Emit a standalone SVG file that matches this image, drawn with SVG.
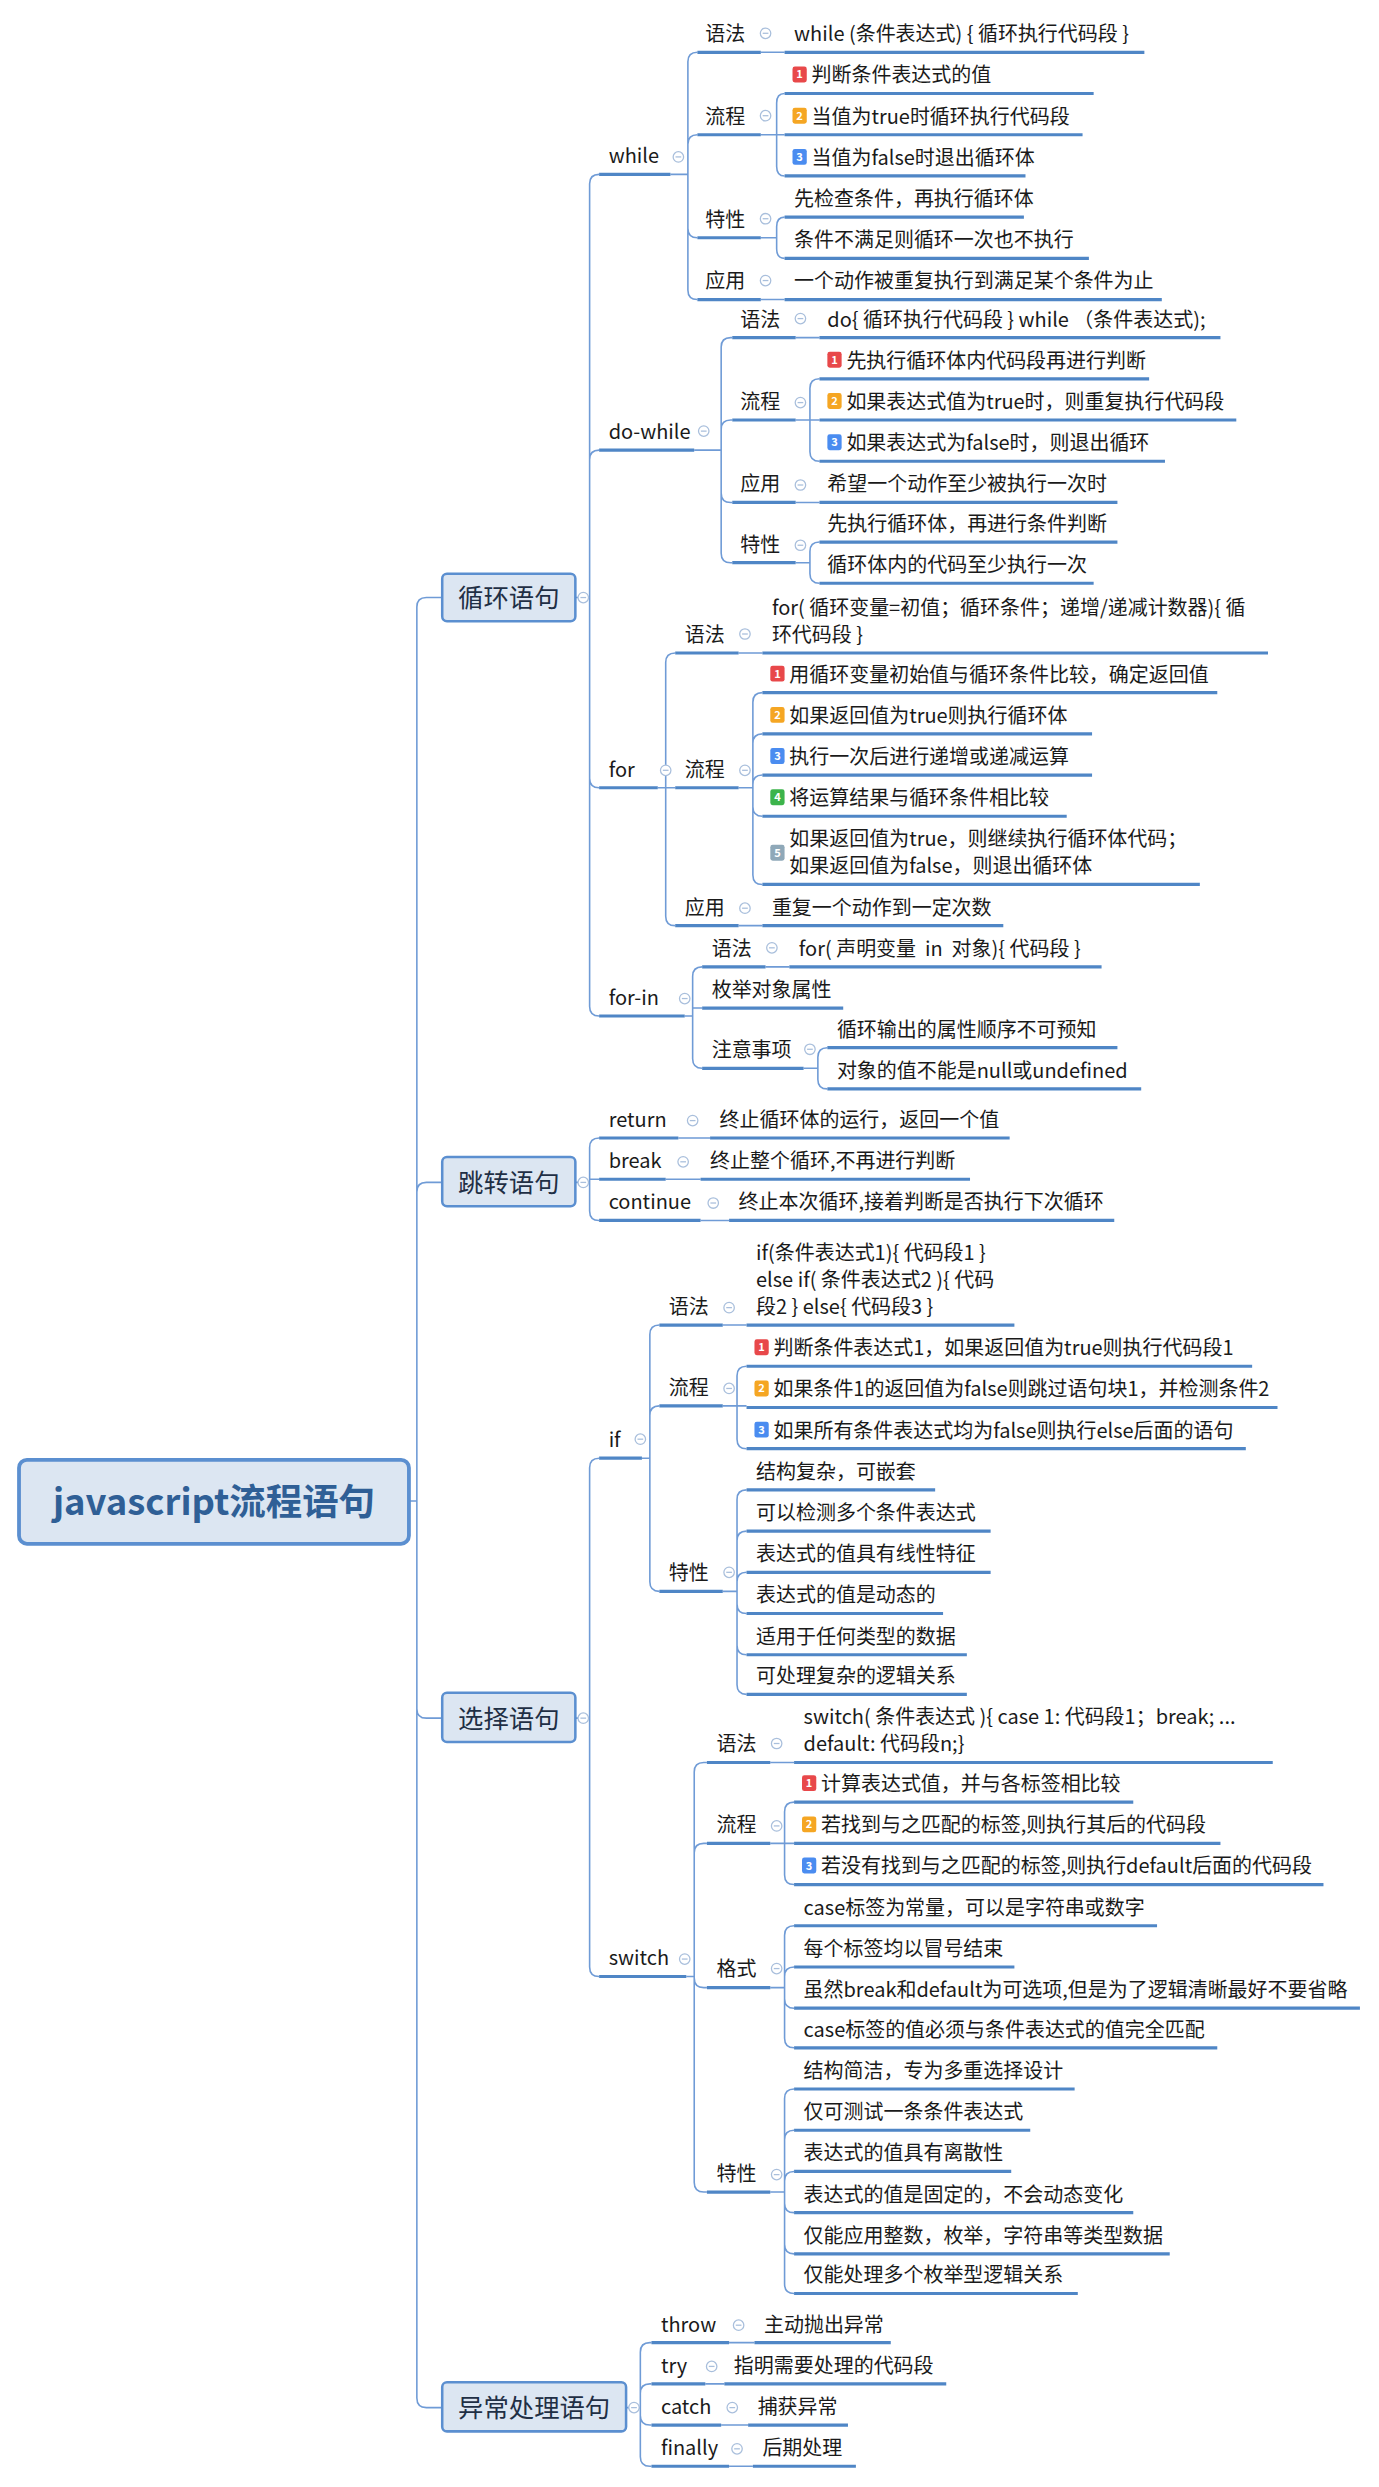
<svg xmlns="http://www.w3.org/2000/svg" xmlns:xlink="http://www.w3.org/1999/xlink" width="1379" height="2487" viewBox="0 0 1379 2487">
<style>
text{font-family:"Microsoft YaHei","Noto Sans CJK SC","Noto Sans",sans-serif;font-size:12.6px;fill:#1a1a1a}
.u{stroke:#4f86c6;stroke-width:2;fill:none}
.c path{stroke:#6f9bd6;stroke-width:1;fill:none}
.b{fill:#dce6f2;stroke:#5b8fd0;stroke-width:1.6}
.bt{font-size:16px;fill:#1f2f45;text-anchor:middle}
.n{font-size:7px;fill:#fff;font-weight:bold;text-anchor:middle}
</style>
<defs>
<g id="col"><circle r="3.3" fill="#fff" stroke="#a9bfdc" stroke-width="0.8"/><path d="M-1.8 0H1.8" stroke="#a9bfdc" stroke-width="0.8"/></g>
</defs>
<rect width="1379" height="2487" fill="#fff"/>
<g transform="scale(1.585)">
<g class="c" id="connectors">
<path d="M258 947H263V383Q263 377 269 377H279M258 947H263V752Q263 746 269 746H279M258 947H263V1078Q263 1084 269 1084H279M258 947H263V1513Q263 1519 269 1519H279"/>
<path d="M363 377H372V116Q372 110 378 110M363 377H372V290Q372 284 378 284M363 377H372V491Q372 497 378 497M363 377H372V635Q372 641 378 641"/>
<path d="M363 746H372V724Q372 718 378 718M363 746H372V744H378M363 746H372V764Q372 770 378 770"/>
<path d="M363 1084H372V926Q372 920 378 920M363 1084H372V1241Q372 1247 378 1247"/>
<path d="M395 1519H404V1484Q404 1478 410 1478H411M395 1519H404V1510Q404 1504 410 1504H411M395 1519H404V1524Q404 1530 410 1530H411M395 1519H404V1550Q404 1556 410 1556H411"/>
<path d="M423 110H434V39Q434 33 440 33M423 110H434V91Q434 85 440 85M423 110H434V144Q434 150 440 150M423 110H434V183Q434 189 440 189"/>
<path d="M480 33H495M480 85H490V65Q490 59 495 59M480 85H495M480 85H490V105Q490 111 495 111M480 150H490V143Q490 137 495 137M480 150H490V157Q490 163 495 163M480 189H495"/>
<path d="M438 284H455V219Q455 213 461 213H462M438 284H455V271Q455 265 461 265H462M438 284H455V311Q455 317 461 317H462M438 284H455V349Q455 355 461 355H462"/>
<path d="M502 213H517M502 265H511V245Q511 239 517 239M502 265H517M502 265H511V285Q511 291 517 291M502 317H517M502 355H511V348Q511 342 517 342M502 355H511V362Q511 368 517 368"/>
<path d="M415 497H420V418Q420 412 426 412M415 497H426M415 497H420V578Q420 584 426 584"/>
<path d="M466 412H481M466 497H475V443Q475 437 481 437M466 497H475V469Q475 463 481 463M466 497H475V495Q475 489 481 489M466 497H475V509Q475 515 481 515M466 497H475V552Q475 558 481 558M466 584H481"/>
<path d="M432 641H437V616Q437 610 443 610M432 641H437V636H443M432 641H437V668Q437 674 443 674M483 610H498M507 674H516V667Q516 661 522 661M507 674H516V681Q516 687 522 687"/>
<path d="M428 718H448M420 744H442M442 770H460"/>
<path d="M405 920H410V842Q410 836 416 836M405 920H410V893Q410 887 416 887M405 920H410V998Q410 1004 416 1004"/>
<path d="M456 836H471M456 887H465V868Q465 862 471 862M456 887H471M456 887H465V908Q465 914 471 914"/>
<path d="M456 1004H465V946Q465 940 471 940M456 1004H465V972Q465 966 471 966M456 1004H465V998Q465 992 471 992M456 1004H465V1012Q465 1018 471 1018M456 1004H465V1038Q465 1044 471 1044M456 1004H465V1063Q465 1069 471 1069"/>
<path d="M433 1247H438V1118Q438 1112 444 1112H446M433 1247H438V1169Q438 1163 444 1163H446M433 1247H438V1248Q438 1254 444 1254H446M433 1247H438V1377Q438 1383 444 1383H446"/>
<path d="M486 1112H501M486 1163H495V1143Q495 1137 501 1137M486 1163H501M486 1163H495V1183Q495 1189 501 1189"/>
<path d="M486 1254H495V1221Q495 1215 501 1215M486 1254H495V1247Q495 1241 501 1241M486 1254H495V1261Q495 1267 501 1267M486 1254H495V1286Q495 1292 501 1292"/>
<path d="M486 1383H495V1324Q495 1318 501 1318M486 1383H495V1350Q495 1344 501 1344M486 1383H495V1376Q495 1370 501 1370M486 1383H495V1390Q495 1396 501 1396M486 1383H495V1416Q495 1422 501 1422M486 1383H495V1441Q495 1447 501 1447"/>
<path d="M460 1478H476M445 1504H457M455 1530H472M460 1556H475"/>
</g>

<g id="root"><rect x="12" y="921" width="246" height="53" rx="5" fill="#dce6f2" stroke="#5b8fd0" stroke-width="2.4"/><text x="135" y="956" text-anchor="middle" style="font-size:23px;font-weight:bold;fill:#2f5f96">javascript流程语句</text></g>

<g id="loop"><rect class="b" x="279" y="362" width="84" height="30" rx="3"/><text class="bt" x="321" y="383">循环语句</text><use href="#col" x="368" y="377"/></g>
<g id="jump"><rect class="b" x="279" y="730" width="84" height="31" rx="3"/><text class="bt" x="321" y="752">跳转语句</text><use href="#col" x="368" y="746"/></g>
<g id="select"><rect class="b" x="279" y="1068" width="84" height="31" rx="3"/><text class="bt" x="321" y="1090">选择语句</text><use href="#col" x="368" y="1084"/></g>
<g id="except"><rect class="b" x="279" y="1503" width="116" height="31" rx="3"/><text class="bt" x="337" y="1525">异常处理语句</text><use href="#col" x="400" y="1519"/></g>

<g id="while"><text x="384" y="103">while</text><path class="u" d="M378 110H423"/><use href="#col" x="428" y="99"/></g>
<g id="while-syn"><text x="445" y="26">语法</text><path class="u" d="M440 33H480"/><use href="#col" x="483" y="21"/><text x="501" y="26">while (条件表达式) { 循环执行代码段 }</text><path class="u" d="M495 33H722"/></g>
<g id="while-flow"><text x="445" y="78">流程</text><path class="u" d="M440 85H480"/><use href="#col" x="483" y="73"/>
<rect x="500" y="42" width="9" height="10" rx="1.5" fill="#e8484a"/><text class="n" x="504.5" y="49.5">1</text><text x="512" y="52">判断条件表达式的值</text><path class="u" d="M495 59H690"/>
<rect x="500" y="68" width="9" height="10" rx="1.5" fill="#f5a623"/><text class="n" x="504.5" y="75.5">2</text><text x="512" y="78">当值为true时循环执行代码段</text><path class="u" d="M495 85H683"/>
<rect x="500" y="94" width="9" height="10" rx="1.5" fill="#4a8cf0"/><text class="n" x="504.5" y="101.5">3</text><text x="512" y="104">当值为false时退出循环体</text><path class="u" d="M495 111H647"/></g>
<g id="while-feat"><text x="445" y="143">特性</text><path class="u" d="M440 150H480"/><use href="#col" x="483" y="138"/>
<text x="501" y="130">先检查条件，再执行循环体</text><path class="u" d="M495 137H646"/>
<text x="501" y="156">条件不满足则循环一次也不执行</text><path class="u" d="M495 163H687"/></g>
<g id="while-app"><text x="445" y="182">应用</text><path class="u" d="M440 189H480"/><use href="#col" x="483" y="177"/><text x="501" y="182">一个动作被重复执行到满足某个条件为止</text><path class="u" d="M495 189H733"/></g>

<g id="dowhile"><text x="384" y="277">do-while</text><path class="u" d="M378 284H438"/><use href="#col" x="444" y="272"/></g>
<g id="dw-syn"><text x="467" y="206">语法</text><path class="u" d="M462 213H502"/><use href="#col" x="505" y="201"/><text x="522" y="206">do{ 循环执行代码段 } while （条件表达式);</text><path class="u" d="M517 213H770"/></g>
<g id="dw-flow"><text x="467" y="258">流程</text><path class="u" d="M462 265H502"/><use href="#col" x="505" y="254"/>
<rect x="522" y="222" width="9" height="10" rx="1.5" fill="#e8484a"/><text class="n" x="526.5" y="229.5">1</text><text x="534" y="232">先执行循环体内代码段再进行判断</text><path class="u" d="M517 239H725"/>
<rect x="522" y="248" width="9" height="10" rx="1.5" fill="#f5a623"/><text class="n" x="526.5" y="255.5">2</text><text x="534" y="258">如果表达式值为true时，则重复执行代码段</text><path class="u" d="M517 265H780"/>
<rect x="522" y="274" width="9" height="10" rx="1.5" fill="#4a8cf0"/><text class="n" x="526.5" y="281.5">3</text><text x="534" y="284">如果表达式为false时，则退出循环</text><path class="u" d="M517 291H735"/></g>
<g id="dw-app"><text x="467" y="310">应用</text><path class="u" d="M462 317H502"/><use href="#col" x="505" y="306"/><text x="522" y="310">希望一个动作至少被执行一次时</text><path class="u" d="M517 317H705"/></g>
<g id="dw-feat"><text x="467" y="348">特性</text><path class="u" d="M462 355H502"/><use href="#col" x="505" y="344"/>
<text x="522" y="335">先执行循环体，再进行条件判断</text><path class="u" d="M517 342H705"/>
<text x="522" y="361">循环体内的代码至少执行一次</text><path class="u" d="M517 368H690"/></g>

<g id="for"><text x="384" y="490">for</text><path class="u" d="M378 497H415"/><use href="#col" x="420" y="486"/></g>
<g id="for-syn"><text x="432" y="405">语法</text><path class="u" d="M426 412H466"/><use href="#col" x="470" y="400"/><text x="487" y="388">for( 循环变量=初值；循环条件；递增/递减计数器){ 循</text><text x="487" y="405">环代码段 }</text><path class="u" d="M481 412H800"/></g>
<g id="for-flow"><text x="432" y="490">流程</text><path class="u" d="M426 497H466"/><use href="#col" x="470" y="486"/>
<rect x="486" y="420" width="9" height="10" rx="1.5" fill="#e8484a"/><text class="n" x="490.5" y="427.5">1</text><text x="498" y="430">用循环变量初始值与循环条件比较，确定返回值</text><path class="u" d="M481 437H768"/>
<rect x="486" y="446" width="9" height="10" rx="1.5" fill="#f5a623"/><text class="n" x="490.5" y="453.5">2</text><text x="498" y="456">如果返回值为true则执行循环体</text><path class="u" d="M481 463H689"/>
<rect x="486" y="472" width="9" height="10" rx="1.5" fill="#4a8cf0"/><text class="n" x="490.5" y="479.5">3</text><text x="498" y="482">执行一次后进行递增或递减运算</text><path class="u" d="M481 489H689"/>
<rect x="486" y="498" width="9" height="10" rx="1.5" fill="#3cb44b"/><text class="n" x="490.5" y="505.5">4</text><text x="498" y="508">将运算结果与循环条件相比较</text><path class="u" d="M481 515H673"/>
<rect x="486" y="533" width="9" height="10" rx="1.5" fill="#8fa8b8"/><text class="n" x="490.5" y="540.5">5</text><text x="498" y="534">如果返回值为true，则继续执行循环体代码；</text><text x="498" y="551">如果返回值为false，则退出循环体</text><path class="u" d="M481 558H757"/></g>
<g id="for-app"><text x="432" y="577">应用</text><path class="u" d="M426 584H466"/><use href="#col" x="470" y="573"/><text x="487" y="577">重复一个动作到一定次数</text><path class="u" d="M481 584H633"/></g>

<g id="forin"><text x="384" y="634">for-in</text><path class="u" d="M378 641H432"/><use href="#col" x="432" y="630"/></g>
<g id="forin-syn"><text x="449" y="603">语法</text><path class="u" d="M443 610H483"/><use href="#col" x="487" y="598"/><text x="504" y="603">for( 声明变量&#160; in&#160; 对象){ 代码段 }</text><path class="u" d="M498 610H695"/></g>
<g id="forin-enum"><text x="449" y="629">枚举对象属性</text><path class="u" d="M443 636H532"/></g>
<g id="forin-note"><text x="449" y="667">注意事项</text><path class="u" d="M443 674H507"/><use href="#col" x="511" y="662"/>
<text x="528" y="654">循环输出的属性顺序不可预知</text><path class="u" d="M522 661H705"/>
<text x="528" y="680">对象的值不能是null或undefined</text><path class="u" d="M522 687H720"/></g>

<g id="return"><text x="384" y="711">return</text><path class="u" d="M378 718H428"/><use href="#col" x="437" y="707"/><text x="454" y="711">终止循环体的运行，返回一个值</text><path class="u" d="M448 718H637"/></g>
<g id="break"><text x="384" y="737">break</text><path class="u" d="M378 744H420"/><use href="#col" x="431" y="733"/><text x="448" y="737">终止整个循环,不再进行判断</text><path class="u" d="M442 744H612"/></g>
<g id="continue"><text x="384" y="763">continue</text><path class="u" d="M378 770H442"/><use href="#col" x="450" y="759"/><text x="466" y="763">终止本次循环,接着判断是否执行下次循环</text><path class="u" d="M460 770H703"/></g>

<g id="if"><text x="384" y="913">if</text><path class="u" d="M378 920H405"/><use href="#col" x="404" y="908"/></g>
<g id="if-syn"><text x="422" y="829">语法</text><path class="u" d="M416 836H456"/><use href="#col" x="460" y="825"/>
<text x="477" y="795">if(条件表达式1){ 代码段1 }</text><text x="477" y="812">else if( 条件表达式2 ){ 代码</text><text x="477" y="829">段2 } else{ 代码段3 }</text><path class="u" d="M471 836H640"/></g>
<g id="if-flow"><text x="422" y="880">流程</text><path class="u" d="M416 887H456"/><use href="#col" x="460" y="876"/>
<rect x="476" y="845" width="9" height="10" rx="1.5" fill="#e8484a"/><text class="n" x="480.5" y="852.5">1</text><text x="488" y="855">判断条件表达式1，如果返回值为true则执行代码段1</text><path class="u" d="M471 862H790"/>
<rect x="476" y="871" width="9" height="10" rx="1.5" fill="#f5a623"/><text class="n" x="480.5" y="878.5">2</text><text x="488" y="881">如果条件1的返回值为false则跳过语句块1，并检测条件2</text><path class="u" d="M471 888H806"/>
<rect x="476" y="897" width="9" height="10" rx="1.5" fill="#4a8cf0"/><text class="n" x="480.5" y="904.5">3</text><text x="488" y="907">如果所有条件表达式均为false则执行else后面的语句</text><path class="u" d="M471 914H786"/></g>
<g id="if-feat"><text x="422" y="997">特性</text><path class="u" d="M416 1004H456"/><use href="#col" x="460" y="992"/>
<text x="477" y="933">结构复杂，可嵌套</text><path class="u" d="M471 940H590"/>
<text x="477" y="959">可以检测多个条件表达式</text><path class="u" d="M471 966H625"/>
<text x="477" y="985">表达式的值具有线性特征</text><path class="u" d="M471 992H625"/>
<text x="477" y="1011">表达式的值是动态的</text><path class="u" d="M471 1018H595"/>
<text x="477" y="1037">适用于任何类型的数据</text><path class="u" d="M471 1044H610"/>
<text x="477" y="1062">可处理复杂的逻辑关系</text><path class="u" d="M471 1069H610"/></g>

<g id="switch"><text x="384" y="1240">switch</text><path class="u" d="M378 1247H433"/><use href="#col" x="432" y="1236"/></g>
<g id="sw-syn"><text x="452" y="1105">语法</text><path class="u" d="M446 1112H486"/><use href="#col" x="490" y="1100"/>
<text x="507" y="1088">switch( 条件表达式 ){ case 1: 代码段1；break; ...</text><text x="507" y="1105">default: 代码段n;}</text><path class="u" d="M501 1112H803"/></g>
<g id="sw-flow"><text x="452" y="1156">流程</text><path class="u" d="M446 1163H486"/><use href="#col" x="490" y="1152"/>
<rect x="506" y="1120" width="9" height="10" rx="1.5" fill="#e8484a"/><text class="n" x="510.5" y="1127.5">1</text><text x="518" y="1130">计算表达式值，并与各标签相比较</text><path class="u" d="M501 1137H715"/>
<rect x="506" y="1146" width="9" height="10" rx="1.5" fill="#f5a623"/><text class="n" x="510.5" y="1153.5">2</text><text x="518" y="1156">若找到与之匹配的标签,则执行其后的代码段</text><path class="u" d="M501 1163H770"/>
<rect x="506" y="1172" width="9" height="10" rx="1.5" fill="#4a8cf0"/><text class="n" x="510.5" y="1179.5">3</text><text x="518" y="1182">若没有找到与之匹配的标签,则执行default后面的代码段</text><path class="u" d="M501 1189H835"/></g>
<g id="sw-fmt"><text x="452" y="1247">格式</text><path class="u" d="M446 1254H486"/><use href="#col" x="490" y="1242"/>
<text x="507" y="1208">case标签为常量，可以是字符串或数字</text><path class="u" d="M501 1215H730"/>
<text x="507" y="1234">每个标签均以冒号结束</text><path class="u" d="M501 1241H640"/>
<text x="507" y="1260">虽然break和default为可选项,但是为了逻辑清晰最好不要省略</text><path class="u" d="M501 1267H858"/>
<text x="507" y="1285">case标签的值必须与条件表达式的值完全匹配</text><path class="u" d="M501 1292H768"/></g>
<g id="sw-feat"><text x="452" y="1376">特性</text><path class="u" d="M446 1383H486"/><use href="#col" x="490" y="1372"/>
<text x="507" y="1311">结构简洁，专为多重选择设计</text><path class="u" d="M501 1318H678"/>
<text x="507" y="1337">仅可测试一条条件表达式</text><path class="u" d="M501 1344H650"/>
<text x="507" y="1363">表达式的值具有离散性</text><path class="u" d="M501 1370H638"/>
<text x="507" y="1389">表达式的值是固定的，不会动态变化</text><path class="u" d="M501 1396H715"/>
<text x="507" y="1415">仅能应用整数，枚举，字符串等类型数据</text><path class="u" d="M501 1422H738"/>
<text x="507" y="1440">仅能处理多个枚举型逻辑关系</text><path class="u" d="M501 1447H680"/></g>

<g id="throw"><text x="417" y="1471">throw</text><path class="u" d="M411 1478H460"/><use href="#col" x="466" y="1467"/><text x="482" y="1471">主动抛出异常</text><path class="u" d="M476 1478H562"/></g>
<g id="try"><text x="417" y="1497">try</text><path class="u" d="M411 1504H445"/><use href="#col" x="449" y="1493"/><text x="463" y="1497">指明需要处理的代码段</text><path class="u" d="M457 1504H597"/></g>
<g id="catch"><text x="417" y="1523">catch</text><path class="u" d="M411 1530H455"/><use href="#col" x="462" y="1519"/><text x="478" y="1523">捕获异常</text><path class="u" d="M472 1530H535"/></g>
<g id="finally"><text x="417" y="1549">finally</text><path class="u" d="M411 1556H460"/><use href="#col" x="465" y="1545"/><text x="481" y="1549">后期处理</text><path class="u" d="M475 1556H540"/></g>
</g>
</svg>
